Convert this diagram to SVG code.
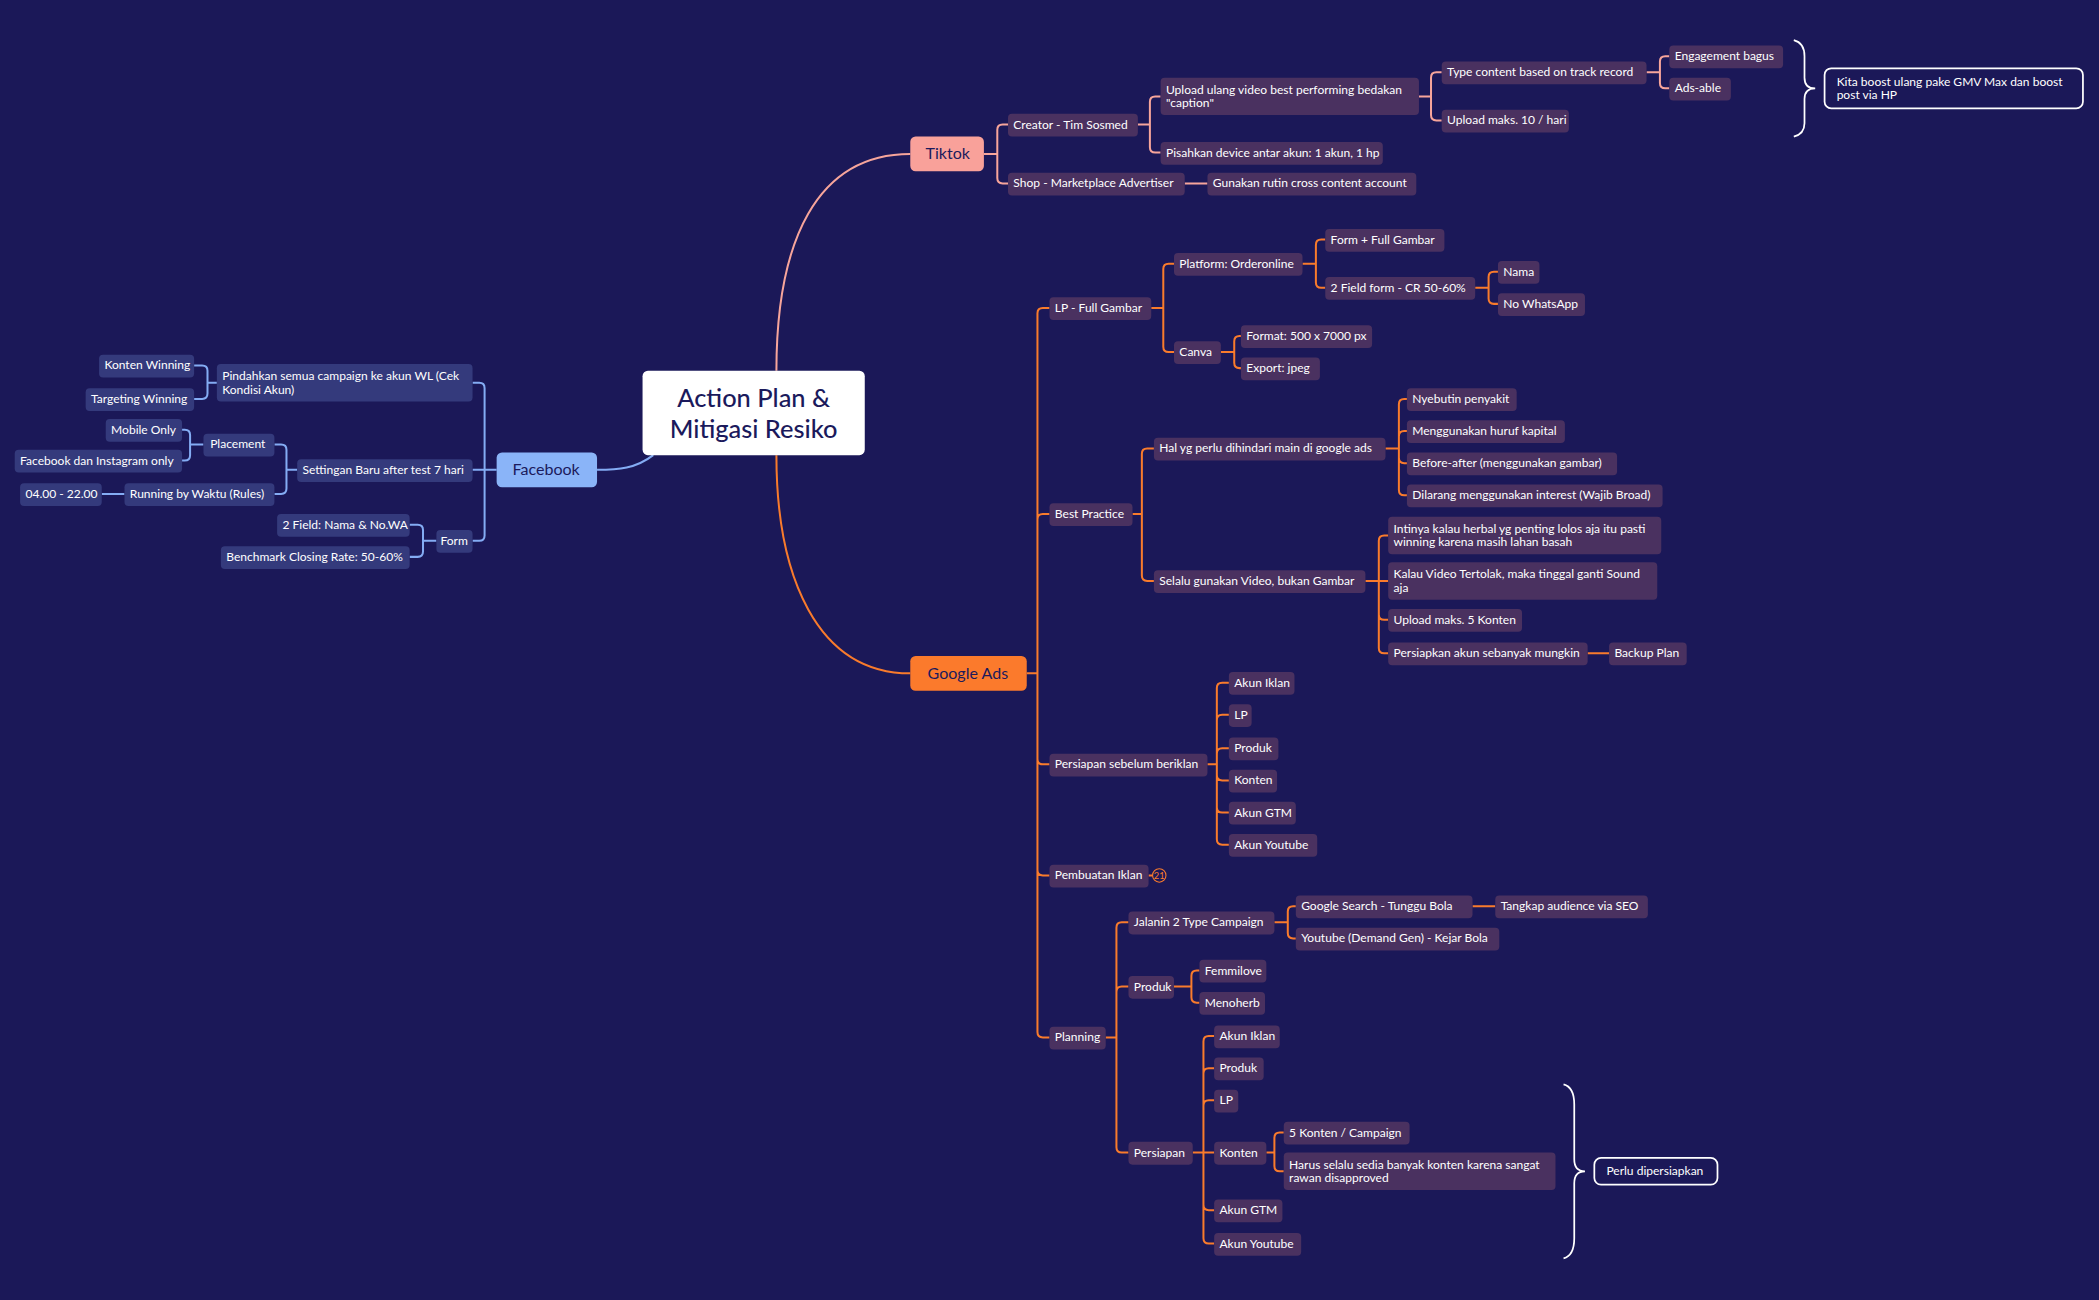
<svg xmlns="http://www.w3.org/2000/svg" width="2099" height="1300" viewBox="0 0 2099 1300">
<style>
text{font-family:Lato,"Noto Sans","Liberation Sans",sans-serif;font-size:9px;fill:#fff}
.n{fill:#4a3160}
.f{fill:#343a7c}
.pk,.og,.fb{fill:none;stroke-width:1.5}
.pk{stroke:#f7a59b}.og{stroke:#f97b2c}.fb{stroke:#84acf4}
.br{fill:none;stroke:#fff;stroke-width:1.3}
.bt{fill:none;stroke:#fff;stroke-width:1.3}
</style>
<rect width="2099" height="1300" fill="#1b1858"/>
<g transform="scale(1.33865)">
<g id="connectors">
<path class="pk" d="M580,277 C580,180 610,115 680,115"/>
<path class="og" d="M580,340 C580,430 610,503 680,503"/>
<path class="fb" d="M488,340 C475,350 462,351 446,351"/>
<path class="pk" d="M735,115 H745 M745,115 V97 Q745,93 749,93 H753 M745,115 V133 Q745,137 749,137 H753 M850,93 H859 M859,93 V76 Q859,72 863,72 H867 M859,93 V110 Q859,114 863,114 H867 M885,137 H902 M1060,72 H1069 M1069,72 V58 Q1069,54 1073,54 H1077 M1069,72 V86 Q1069,90 1073,90 H1077 M1230,54 H1240 M1240,54 V46 Q1240,42 1244,42 H1247 M1240,54 V62 Q1240,66 1244,66 H1247"/>
<path class="og" d="M767,503 H775 M775,503 V234 Q775,230 779,230 H784 M775,503 V388 Q775,384 779,384 H784 M775,503 V567 Q775,571 779,571 H784 M775,503 V650 Q775,654 779,654 H784 M775,503 V771 Q775,775 779,775 H784
M860,230 H869 M869,230 V201 Q869,197 873,197 H877 M869,230 V259 Q869,263 873,263 H877
M973,197 H983 M983,197 V183 Q983,179 987,179 H990 M983,197 V211 Q983,215 987,215 H990
M1102,215 H1112 M1112,215 V207 Q1112,203 1116,203 H1119 M1112,215 V223 Q1112,227 1116,227 H1119
M912,263 H922 M922,263 V255 Q922,251 926,251 H927 M922,263 V271 Q922,275 926,275 H927
M846,384 H853 M853,384 V339 Q853,335 857,335 H862 M853,384 V430 Q853,434 857,434 H862
M1035,335 H1045 M1045,335 V302 Q1045,298 1049,298 H1051 M1045,335 V326 Q1045,322 1049,322 H1051 M1045,335 V342 Q1045,346 1049,346 H1051 M1045,335 V366 Q1045,370 1049,370 H1051
M1020,434 H1037 M1030,434 V404 Q1030,400 1034,400 H1037 M1030,434 V459 Q1030,463 1034,463 H1037 M1030,434 V484 Q1030,488 1034,488 H1037 M1186,488 H1202
M902,571 H909 M909,571 V514 Q909,510 913,510 H918 M909,571 V538 Q909,534 913,534 H918 M909,571 V563 Q909,559 913,559 H918 M909,571 V579 Q909,583 913,583 H918 M909,571 V603 Q909,607 913,607 H918 M909,571 V627 Q909,631 913,631 H918
M858,654 H861
M826,775 H834 M834,775 V693 Q834,689 838,689 H843 M834,775 V741 Q834,737 838,737 H843 M834,775 V857 Q834,861 838,861 H843
M952,689 H962 M962,689 V681 Q962,677 966,677 H968 M962,689 V697 Q962,701 966,701 H968 M1100,677 H1117
M877,737 H890 M890,737 V729 Q890,725 894,725 H896 M890,737 V745 Q890,749 894,749 H896
M891,861 H907 M899,861 V778 Q899,774 903,774 H907 M899,861 V802 Q899,798 903,798 H907 M899,861 V826 Q899,822 903,822 H907 M899,861 V900 Q899,904 903,904 H907 M899,861 V925 Q899,929 903,929 H907
M946,861 H952 M952,861 V850 Q952,846 956,846 H959 M952,861 V871 Q952,875 956,875 H959"/>
<path class="fb" d="M371,351 H353 M362,351 V290 Q362,286 358,286 H353 M362,351 V400 Q362,404 358,404 H353
M162,286 H155 M155,286 V277 Q155,273 151,273 H145 M155,286 V294 Q155,298 151,298 H145
M222,351 H214 M214,351 V336 Q214,332 210,332 H205 M214,351 V365 Q214,369 210,369 H205
M152,332 H142 M142,332 V325 Q142,321 138,321 H136 M142,332 V340 Q142,344 138,344 H136
M93,369 H76
M326,404 H316 M316,404 V396 Q316,392 312,392 H306 M316,404 V412 Q316,416 312,416 H306"/>
<path class="br" d="M1340,30 Q1348,32 1348,42 V58 Q1348,66 1356,66 Q1348,66 1348,74 V92 Q1348,100 1340,102"/>
<path class="br" d="M1168,810 Q1176,812 1176,825 V866 Q1176,875 1184,875 Q1176,875 1176,884 V925 Q1176,938 1168,940"/>
</g>
<g id="central"><rect x="480" y="277" width="166" height="63" rx="4" fill="#fff"/>
<text x="563" y="304" text-anchor="middle" style="font-size:19px;fill:#1b1a5c;font-weight:500">Action Plan &amp;</text>
<text x="563" y="327" text-anchor="middle" style="font-size:19px;fill:#1b1a5c;font-weight:500">Mitigasi Resiko</text></g>
<g id="tiktok"><rect x="680" y="102" width="55" height="26" rx="4" fill="#f9a19a"/><text x="708" y="119" text-anchor="middle" style="font-size:12px;fill:#1b1a5c">Tiktok</text></g>
<g id="googleads"><rect x="680" y="490" width="87" height="26" rx="4" fill="#fb7a2c"/><text x="723" y="507" text-anchor="middle" style="font-size:12px;fill:#1b1a5c">Google Ads</text></g>
<g id="facebook"><rect x="371" y="338" width="75" height="26" rx="4" fill="#8ab4f8"/><text x="408" y="355" text-anchor="middle" style="font-size:12px;fill:#1b1a5c">Facebook</text></g>

<g id="t1"><rect class="n" x="753" y="85" width="97" height="17" rx="3"/><text x="757" y="96">Creator - Tim Sosmed</text></g>
<g id="t2"><rect class="n" x="753" y="129" width="132" height="17" rx="3"/><text x="757" y="140">Shop - Marketplace Advertiser</text></g>
<g id="t3"><rect class="n" x="902" y="129" width="156" height="17" rx="3"/><text x="906" y="140">Gunakan rutin cross content account</text></g>
<g id="t4"><rect class="n" x="867" y="58" width="193" height="28" rx="3"/><text x="871" y="70">Upload ulang video best performing bedakan</text><text x="871" y="80">"caption"</text></g>
<g id="t5"><rect class="n" x="867" y="106" width="166" height="17" rx="3"/><text x="871" y="117">Pisahkan device antar akun: 1 akun, 1 hp</text></g>
<g id="t6"><rect class="n" x="1077" y="46" width="153" height="17" rx="3"/><text x="1081" y="57">Type content based on track record</text></g>
<g id="t7"><rect class="n" x="1077" y="82" width="95" height="17" rx="3"/><text x="1081" y="93">Upload maks. 10 / hari</text></g>
<g id="t8"><rect class="n" x="1247" y="34" width="85" height="17" rx="3"/><text x="1251" y="45">Engagement bagus</text></g>
<g id="t9"><rect class="n" x="1247" y="58" width="46" height="17" rx="3"/><text x="1251" y="69">Ads-able</text></g>
<g id="t10"><rect class="bt" x="1363" y="51" width="193" height="30" rx="5"/><text x="1372" y="64">Kita boost ulang pake GMV Max dan boost</text><text x="1372" y="74">post via HP</text></g>

<g id="g1"><rect class="n" x="784" y="222" width="76" height="17" rx="3"/><text x="788" y="233">LP - Full Gambar</text></g>
<g id="g2"><rect class="n" x="784" y="376" width="62" height="17" rx="3"/><text x="788" y="387">Best Practice</text></g>
<g id="g3"><rect class="n" x="784" y="563" width="118" height="17" rx="3"/><text x="788" y="574">Persiapan sebelum beriklan</text></g>
<g id="g4"><rect class="n" x="784" y="646" width="74" height="17" rx="3"/><text x="788" y="657">Pembuatan Iklan</text><circle cx="866" cy="654" r="5" fill="none" stroke="#f97b2c" stroke-width="0.8"/><text x="866" y="657" text-anchor="middle" style="font-size:7px;fill:#f97b2c">21</text></g>
<g id="g5"><rect class="n" x="784" y="767" width="42" height="17" rx="3"/><text x="788" y="778">Planning</text></g>
<g id="g6"><rect class="n" x="877" y="189" width="96" height="17" rx="3"/><text x="881" y="200">Platform: Orderonline</text></g>
<g id="g7"><rect class="n" x="877" y="255" width="35" height="17" rx="3"/><text x="881" y="266">Canva</text></g>
<g id="g8"><rect class="n" x="990" y="171" width="89" height="17" rx="3"/><text x="994" y="182">Form + Full Gambar</text></g>
<g id="g9"><rect class="n" x="990" y="207" width="112" height="17" rx="3"/><text x="994" y="218">2 Field form - CR 50-60%</text></g>
<g id="g10"><rect class="n" x="1119" y="195" width="31" height="17" rx="3"/><text x="1123" y="206">Nama</text></g>
<g id="g11"><rect class="n" x="1119" y="219" width="65" height="17" rx="3"/><text x="1123" y="230">No WhatsApp</text></g>
<g id="g12"><rect class="n" x="927" y="243" width="98" height="17" rx="3"/><text x="931" y="254">Format: 500 x 7000 px</text></g>
<g id="g13"><rect class="n" x="927" y="267" width="59" height="17" rx="3"/><text x="931" y="278">Export: jpeg</text></g>
<g id="g14"><rect class="n" x="862" y="327" width="173" height="17" rx="3"/><text x="866" y="338">Hal yg perlu dihindari main di google ads</text></g>
<g id="g15"><rect class="n" x="862" y="426" width="158" height="17" rx="3"/><text x="866" y="437">Selalu gunakan Video, bukan Gambar</text></g>
<g id="g16"><rect class="n" x="1051" y="290" width="82" height="17" rx="3"/><text x="1055" y="301">Nyebutin penyakit</text></g>
<g id="g17"><rect class="n" x="1051" y="314" width="118" height="17" rx="3"/><text x="1055" y="325">Menggunakan huruf kapital</text></g>
<g id="g18"><rect class="n" x="1051" y="338" width="157" height="17" rx="3"/><text x="1055" y="349">Before-after (menggunakan gambar)</text></g>
<g id="g19"><rect class="n" x="1051" y="362" width="191" height="17" rx="3"/><text x="1055" y="373">Dilarang menggunakan interest (Wajib Broad)</text></g>
<g id="g20"><rect class="n" x="1037" y="386" width="204" height="28" rx="3"/><text x="1041" y="398">Intinya kalau herbal yg penting lolos aja itu pasti</text><text x="1041" y="408">winning karena masih lahan basah</text></g>
<g id="g21"><rect class="n" x="1037" y="420" width="201" height="28" rx="3"/><text x="1041" y="432">Kalau Video Tertolak, maka tinggal ganti Sound</text><text x="1041" y="442">aja</text></g>
<g id="g22"><rect class="n" x="1037" y="455" width="100" height="17" rx="3"/><text x="1041" y="466">Upload maks. 5 Konten</text></g>
<g id="g23"><rect class="n" x="1037" y="480" width="149" height="17" rx="3"/><text x="1041" y="491">Persiapkan akun sebanyak mungkin</text></g>
<g id="g24"><rect class="n" x="1202" y="480" width="58" height="17" rx="3"/><text x="1206" y="491">Backup Plan</text></g>
<g id="g25"><rect class="n" x="918" y="502" width="49" height="17" rx="3"/><text x="922" y="513">Akun Iklan</text></g>
<g id="g26"><rect class="n" x="918" y="526" width="17" height="17" rx="3"/><text x="922" y="537">LP</text></g>
<g id="g27"><rect class="n" x="918" y="551" width="37" height="17" rx="3"/><text x="922" y="562">Produk</text></g>
<g id="g28"><rect class="n" x="918" y="575" width="36" height="17" rx="3"/><text x="922" y="586">Konten</text></g>
<g id="g29"><rect class="n" x="918" y="599" width="50" height="17" rx="3"/><text x="922" y="610">Akun GTM</text></g>
<g id="g30"><rect class="n" x="918" y="623" width="66" height="17" rx="3"/><text x="922" y="634">Akun Youtube</text></g>
<g id="g31"><rect class="n" x="843" y="681" width="109" height="17" rx="3"/><text x="847" y="692">Jalanin 2 Type Campaign</text></g>
<g id="g32"><rect class="n" x="843" y="729" width="34" height="17" rx="3"/><text x="847" y="740">Produk</text></g>
<g id="g33"><rect class="n" x="843" y="853" width="48" height="17" rx="3"/><text x="847" y="864">Persiapan</text></g>
<g id="g34"><rect class="n" x="968" y="669" width="132" height="17" rx="3"/><text x="972" y="680">Google Search  - Tunggu Bola</text></g>
<g id="g35"><rect class="n" x="968" y="693" width="152" height="17" rx="3"/><text x="972" y="704">Youtube (Demand Gen) - Kejar Bola</text></g>
<g id="g36"><rect class="n" x="1117" y="669" width="114" height="17" rx="3"/><text x="1121" y="680">Tangkap audience via SEO</text></g>
<g id="g37"><rect class="n" x="896" y="717" width="50" height="17" rx="3"/><text x="900" y="728">Femmilove</text></g>
<g id="g38"><rect class="n" x="896" y="741" width="49" height="17" rx="3"/><text x="900" y="752">Menoherb</text></g>
<g id="g39"><rect class="n" x="907" y="766" width="49" height="17" rx="3"/><text x="911" y="777">Akun Iklan</text></g>
<g id="g40"><rect class="n" x="907" y="790" width="37" height="17" rx="3"/><text x="911" y="801">Produk</text></g>
<g id="g41"><rect class="n" x="907" y="814" width="18" height="17" rx="3"/><text x="911" y="825">LP</text></g>
<g id="g42"><rect class="n" x="907" y="853" width="39" height="17" rx="3"/><text x="911" y="864">Konten</text></g>
<g id="g43"><rect class="n" x="907" y="896" width="51" height="17" rx="3"/><text x="911" y="907">Akun GTM</text></g>
<g id="g44"><rect class="n" x="907" y="921" width="65" height="17" rx="3"/><text x="911" y="932">Akun Youtube</text></g>
<g id="g45"><rect class="n" x="959" y="838" width="94" height="17" rx="3"/><text x="963" y="849">5 Konten / Campaign</text></g>
<g id="g46"><rect class="n" x="959" y="861" width="203" height="28" rx="3"/><text x="963" y="873">Harus selalu sedia banyak konten karena sangat</text><text x="963" y="883">rawan disapproved</text></g>
<g id="g47"><rect class="bt" x="1191" y="865" width="92" height="20" rx="5"/><text x="1200" y="878">Perlu dipersiapkan</text></g>

<g id="f1"><rect class="f" x="162" y="272" width="191" height="28" rx="3"/><text x="166" y="284">Pindahkan semua campaign ke akun WL (Cek</text><text x="166" y="294">Kondisi Akun)</text></g>
<g id="f2"><rect class="f" x="222" y="343" width="131" height="17" rx="3"/><text x="226" y="354">Settingan Baru after test 7 hari</text></g>
<g id="f3"><rect class="f" x="326" y="396" width="27" height="17" rx="3"/><text x="329" y="407">Form</text></g>
<g id="f4"><rect class="f" x="74" y="265" width="71" height="17" rx="3"/><text x="78" y="276">Konten Winning</text></g>
<g id="f5"><rect class="f" x="64" y="290" width="81" height="17" rx="3"/><text x="68" y="301">Targeting Winning</text></g>
<g id="f6"><rect class="f" x="152" y="324" width="53" height="17" rx="3"/><text x="157" y="335">Placement</text></g>
<g id="f7"><rect class="f" x="93" y="361" width="112" height="17" rx="3"/><text x="97" y="372">Running by Waktu (Rules)</text></g>
<g id="f8"><rect class="f" x="79" y="313" width="57" height="17" rx="3"/><text x="83" y="324">Mobile Only</text></g>
<g id="f9"><rect class="f" x="11" y="336" width="125" height="17" rx="3"/><text x="15" y="347">Facebook dan Instagram only</text></g>
<g id="f10"><rect class="f" x="15" y="361" width="61" height="17" rx="3"/><text x="19" y="372">04.00 - 22.00</text></g>
<g id="f11"><rect class="f" x="207" y="384" width="99" height="17" rx="3"/><text x="211" y="395">2 Field: Nama &amp; No.WA</text></g>
<g id="f12"><rect class="f" x="165" y="408" width="141" height="17" rx="3"/><text x="169" y="419">Benchmark Closing Rate: 50-60%</text></g>
</g>
</svg>
